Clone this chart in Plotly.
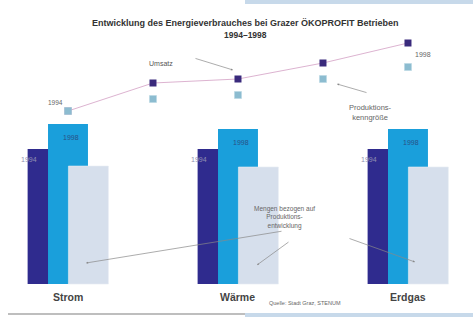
import plotly.graph_objects as go

# ---- data ----
categories = ["Strom", "Wärme", "Erdgas"]
cat_pos = [0, 2, 4]
val_1994 = [100, 100, 100]          # dark bars (1994 = 100)
val_1998 = [118.5, 114.8, 114.8]    # blue bars (1998)
val_bezogen = [87.4, 86.7, 86.7]    # pale bars (Mengen bezogen auf Produktionsentwicklung)
years = [1994, 1995, 1996, 1997, 1998]
year_pos = [0, 1, 2, 3, 4]
umsatz = [100, 114, 116, 124, 134]
produktion = [100, 106, 108, 116, 122]

BW = 0.47
OFF = 0.24

fig = go.Figure()
fig.add_trace(go.Bar(x=[c - OFF for c in cat_pos], y=val_1994, width=BW,
                     marker=dict(color="#2f2b8e", line=dict(width=0)), name="1994"))
fig.add_trace(go.Bar(x=[c for c in cat_pos], y=val_1998, width=BW,
                     marker=dict(color="#1a9fdb", line=dict(width=0)), name="1998"))
fig.add_trace(go.Bar(x=[c + OFF for c in cat_pos], y=val_bezogen, width=BW,
                     marker=dict(color="#d6dfec", line=dict(width=0.6, color="#e6ecf4")), name="bezogen"))

fig.add_trace(go.Scatter(x=year_pos, y=umsatz, yaxis="y2", mode="lines+markers",
                         line=dict(color="#d3a0c4", width=0.8),
                         marker=dict(symbol="square", size=7, color="#3a2a7c"), name="Umsatz"))
fig.add_trace(go.Scatter(x=year_pos, y=produktion, yaxis="y2", mode="markers",
                         marker=dict(symbol="square", size=7, color="#8cbcd0",
                                     line=dict(width=0.6, color="#b9d6e2")), name="Produktion"))

ann = []
# bar labels
for c, v in zip(cat_pos, val_1994):
    ann.append(dict(x=c - 0.46, y=v - 7.5, text="1994", showarrow=False,
                    font=dict(size=7, color="#9290b2")))
for c, v in zip(cat_pos, val_1998):
    ann.append(dict(x=c + 0.03, y=v - 10, text="1998", showarrow=False,
                    font=dict(size=7, color="#2a4f86")))
# category labels
for c, name in zip(cat_pos, categories):
    ann.append(dict(x=c, y=-9.6, text="<b>" + name + "</b>", showarrow=False,
                    font=dict(size=10.5, color="#444444")))

def ptxt(px, py, text, size=7, color="#666666"):
    return dict(xref="paper", yref="paper", x=px / 473, y=1 - py / 317, text=text,
                showarrow=False, font=dict(size=size, color=color), align="center")

ann += [
    ptxt(245, 16, "<b>Entwicklung des Energieverbrauches bei Grazer ÖKOPROFIT Betrieben</b>", 9, "#333333"),
    ptxt(245, 28, "<b>1994–1998</b>", 8.5, "#333333"),
    ptxt(46, 97, "1994", 6.5),
    ptxt(161, 58, "Umsatz", 7, "#555555"),
    ptxt(433, 49, "1998", 7),
    ptxt(394, 101, "Produktions-<br>kenngröße", 7.5, "#666666"),
    ptxt(317, 232, "Mengen bezogen auf<br>Produktions-<br>entwicklung", 6.5, "#666666"),
    ptxt(305, 308, "Quelle: Stadt Graz, STENUM", 5.5, "#666666"),
]

def arrow(hx, hy, tx, ty):
    return dict(xref="paper", yref="paper", x=hx / 473, y=1 - hy / 317, text="",
                showarrow=True, arrowhead=2, arrowsize=0.6, arrowwidth=0.7,
                arrowcolor="#888888", ax=tx - hx, ay=ty - hy)

ann += [
    arrow(233, 70, 194, 58),
    arrow(337, 84, 368, 93),
    arrow(86, 263, 283, 231),
    arrow(257, 265, 290, 241),
    arrow(415, 262, 348, 238),
]

shapes = [
    dict(type="rect", xref="paper", yref="paper", x0=245 / 473, x1=1, y0=1 - 4 / 317, y1=1,
         fillcolor="#c7d9ea", line=dict(width=0), layer="below"),
    dict(type="line", xref="paper", yref="paper", x0=8 / 473, x1=245 / 473,
         y0=1 - 314 / 317, y1=1 - 314 / 317, line=dict(color="#a8a8a8", width=1.5)),
    dict(type="rect", xref="paper", yref="paper", x0=245 / 473, x1=1, y0=0, y1=1 - 313 / 317,
         fillcolor="#c7d9ea", line=dict(width=0)),
]

fig.update_layout(
    width=473, height=317, margin=dict(l=0, r=0, t=0, b=0),
    paper_bgcolor="white", plot_bgcolor="white",
    barmode="overlay", showlegend=False,
    xaxis=dict(range=[-0.8, 4.765], visible=False, fixedrange=True),
    yaxis=dict(range=[-24.4, 210.4], visible=False),
    yaxis2=dict(range=[-3, 155.5], overlaying="y", visible=False),
    annotations=ann, shapes=shapes,
    font=dict(family="Liberation Sans, Arial, sans-serif"),
)

fig.write_html("out.html", config={"displayModeBar": False},
               post_script="document.body.style.margin='0';")
